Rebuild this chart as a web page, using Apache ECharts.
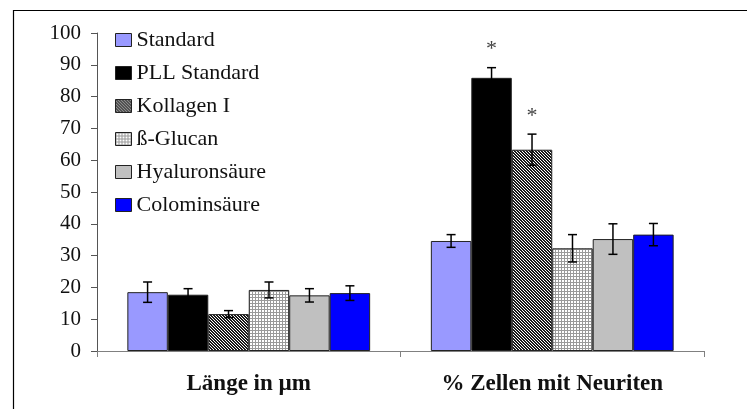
<!DOCTYPE html>
<html>
<head>
<meta charset="utf-8">
<script src="https://cdn.jsdelivr.net/npm/echarts@6/dist/echarts.min.js"></script>
<style>
  html, body { margin: 0; padding: 0; background: #fff; }
  #chart { width: 747px; height: 409px; }
</style>
</head>
<body>
<div id="chart"></div>
<script>
// Groups along the x axis
const categories = ['Länge in µm', '% Zellen mit Neuriten'];

// Substrates (one bar series each)
const seriesNames = ['Standard', 'PLL Standard', 'Kollagen I', 'ß-Glucan', 'Hyaluronsäure', 'Colominsäure'];

// Mean values per substrate, [Länge, % Zellen]
const standardValues = [18.5, 34.6];
const pllValues = [17.7, 85.9];
const kollagenValues = [11.6, 63.3];
const glucanValues = [19.2, 32.3];
const hyaluronValues = [17.5, 35.2];
const colominValues = [18.2, 36.6];

// Error (± SD) per substrate, [Länge, % Zellen]
const standardErr = [3.2, 2.0];
const pllErr = [1.9, 3.2];
const kollagenErr = [1.1, 4.9];
const glucanErr = [2.5, 4.3];
const hyaluronErr = [2.1, 4.8];
const colominErr = [2.3, 3.5];

// Significance markers (*) per substrate, [Länge, % Zellen]
const standardSig = [false, false];
const pllSig = [false, true];
const kollagenSig = [false, true];
const glucanSig = [false, false];
const hyaluronSig = [false, false];
const colominSig = [false, false];

// Y axis ticks
const yMin = 0, yMax = 100, yStep = 10;

const allValues = [standardValues, pllValues, kollagenValues, glucanValues, hyaluronValues, colominValues];
const allErrors = [standardErr, pllErr, kollagenErr, glucanErr, hyaluronErr, colominErr];
const allSig = [standardSig, pllSig, kollagenSig, glucanSig, hyaluronSig, colominSig];

// Fill patterns
function hatchPattern() {
  const c = document.createElement('canvas');
  c.width = 3; c.height = 3;
  const g = c.getContext('2d');
  g.fillStyle = '#ffffff';
  g.fillRect(0, 0, 3, 3);
  g.fillStyle = '#1a1a1a';
  for (let y = 0; y < 3; y++) {
    for (let x = 0; x < 3; x++) {
      const d = ((x - y) % 3 + 3) % 3;
      if (d !== 2) g.fillRect(x, y, 1, 1);
    }
  }
  return { image: c, repeat: 'repeat' };
}
function gridPattern() {
  const c = document.createElement('canvas');
  c.width = 3; c.height = 3;
  const g = c.getContext('2d');
  g.fillStyle = '#ffffff';
  g.fillRect(0, 0, 3, 3);
  g.fillStyle = '#9a9a9a';
  g.fillRect(0, 0, 3, 1);
  g.fillRect(0, 0, 1, 3);
  return { image: c, repeat: 'repeat' };
}

const fills = ['#9999ff', '#000000', hatchPattern(), gridPattern(), '#c0c0c0', '#0000ff'];

const FONT = '"Liberation Serif", "DejaVu Serif", serif';
const N = seriesNames.length;
const categoryGap = 0.2;

const barSeries = seriesNames.map((name, i) => ({
  name: name,
  type: 'bar',
  data: allValues[i],
  barGap: '0%',
  barCategoryGap: '20%',
  itemStyle: { color: fills[i], borderColor: '#222', borderWidth: 1 },
  emphasis: { disabled: true },
  z: 2
}));

// Error bars (and significance stars) drawn over each bar
const errorSeries = seriesNames.map((name, i) => ({
  type: 'custom',
  name: name + ' err',
  data: allValues[i].map((v, k) => [k, v, allErrors[i][k], allSig[i][k] ? 1 : 0]),
  z: 5,
  silent: true,
  renderItem: function (params, api) {
    const k = api.value(0);
    const v = api.value(1);
    const e = api.value(2);
    const sig = api.value(3);
    const band = api.size([1, 0])[0];
    const barW = band * (1 - categoryGap) / N;
    const center = api.coord([k, v]);
    const x = center[0] - band * (1 - categoryGap) / 2 + (i + 0.5) * barW;
    const top = api.coord([k, v + e])[1];
    const bot = api.coord([k, v - e])[1];
    const cap = 4.5;
    const style = { stroke: '#000', lineWidth: 1.5 };
    const children = [
      { type: 'line', shape: { x1: x, y1: top, x2: x, y2: bot }, style: style },
      { type: 'line', shape: { x1: x - cap, y1: top, x2: x + cap, y2: top }, style: style },
      { type: 'line', shape: { x1: x - cap, y1: bot, x2: x + cap, y2: bot }, style: style }
    ];
    if (sig) {
      children.push({
        type: 'text',
        style: {
          text: '*', x: x, y: top - 7,
          font: '22px ' + FONT, fill: '#444',
          align: 'center', verticalAlign: 'bottom'
        }
      });
    }
    return { type: 'group', children: children };
  }
}));

const chart = echarts.init(document.getElementById('chart'), null, { renderer: 'canvas' });
chart.setOption({
  animation: false,
  backgroundColor: '#ffffff',
  textStyle: { fontFamily: FONT },
  graphic: [{
    type: 'rect',
    shape: { x: 13.5, y: 10.5, width: 900, height: 600 },
    style: { fill: 'none', stroke: '#000', lineWidth: 1.2 },
    silent: true,
    z: -1
  }],
  grid: { left: 97, right: 43, top: 33, bottom: 58, containLabel: false },
  legend: {
    orient: 'vertical',
    left: 110, top: 24,
    itemWidth: 16, itemHeight: 13,
    itemGap: 11,
    icon: 'rect',
    data: seriesNames,
    selectedMode: false,
    textStyle: { fontFamily: FONT, fontSize: 22, color: '#111' },
    itemStyle: { borderColor: '#222', borderWidth: 1 }
  },
  xAxis: {
    type: 'category',
    data: categories,
    axisLine: { lineStyle: { color: '#808080', width: 1 } },
    axisTick: { show: true, length: 6, lineStyle: { color: '#808080', width: 1 } },
    axisLabel: { fontFamily: FONT, fontSize: 23, fontWeight: 'bold', color: '#111', margin: 22 },
    splitLine: { show: false }
  },
  yAxis: {
    type: 'value',
    min: yMin, max: yMax, interval: yStep,
    axisLine: { show: true, lineStyle: { color: '#555', width: 1 } },
    axisTick: { show: true, length: 6, lineStyle: { color: '#555' } },
    axisLabel: { fontFamily: FONT, fontSize: 21, color: '#111', margin: 16 },
    splitLine: { show: false }
  },
  series: barSeries.concat(errorSeries)
});
</script>
</body>
</html>
